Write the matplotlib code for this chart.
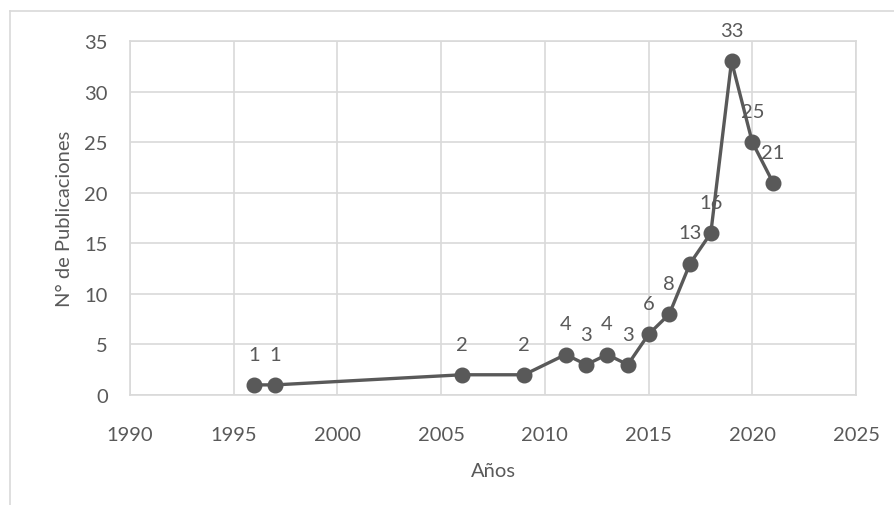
import matplotlib
matplotlib.use("Agg")
import matplotlib.pyplot as plt
from matplotlib.lines import Line2D

years = [1996, 1997, 2006, 2009, 2011, 2012, 2013, 2014, 2015, 2016, 2017, 2018, 2019, 2020, 2021]
counts = [1, 1, 2, 2, 4, 3, 4, 3, 6, 8, 13, 16, 33, 25, 21]
x_ticks = [1990, 1995, 2000, 2005, 2010, 2015, 2020, 2025]
y_ticks = [0, 5, 10, 15, 20, 25, 30, 35]
x_label = "Años"
y_label = "N° de Publicaciones"

plt.rcParams['font.family'] = ['Lato', 'DejaVu Sans']
txt = '#595959'
fs = 14.5
W, H = 895, 506
fig = plt.figure(figsize=(W / 100, H / 100), dpi=100)
ax = fig.add_axes([130 / W, 1 - 396 / H, (856 - 130) / W, (396 - 42) / H])

ax.plot(years, counts, color='#595959', lw=2.4, marker='o', ms=10.5, zorder=3, clip_on=False)
for x, y in zip(years, counts):
    ax.annotate(str(y), (x, y), xytext=(0, 22), textcoords='offset points',
                ha='center', va='center', fontsize=fs, color=txt)

ax.set_xlim(1990, 2025)
ax.set_ylim(0, 35)
ax.set_xticks(x_ticks)
ax.set_yticks(y_ticks)
ax.grid(True, color='#d9d9d9', lw=1.2)
ax.set_axisbelow(True)
for s in ax.spines.values():
    s.set_color('#d9d9d9')
    s.set_linewidth(1.2)
ax.tick_params(length=0, labelsize=fs, colors=txt)
ax.tick_params(axis='x', pad=22)
ax.tick_params(axis='y', pad=16)
ax.set_xlabel(x_label, fontsize=fs, color=txt, labelpad=14)
ax.set_ylabel(y_label, fontsize=fs, color=txt, labelpad=8)

# chart area border (top and left)
fig.add_artist(Line2D([10 / W, 1], [1 - 12 / H, 1 - 12 / H], color='#d9d9d9', lw=1.2))
fig.add_artist(Line2D([10 / W, 10 / W], [0, 1 - 12 / H], color='#d9d9d9', lw=1.2))

fig.savefig('out.png', dpi=100)
